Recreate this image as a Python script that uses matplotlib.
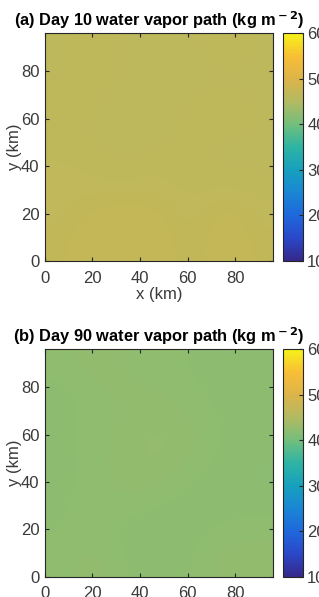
import numpy as np
import matplotlib.pyplot as plt
from matplotlib.colors import LinearSegmentedColormap

plt.rcParams['font.family'] = ['Liberation Sans', 'DejaVu Sans']

# grid node positions (km) and coarse field values (kg m^-2)
grid_km = [0, 16, 32, 48, 64, 80, 96]

# rows go from y=0 (bottom) to y=96 (top)
wvp_day10 = [
    [46.8, 47.3, 47.0, 47.2, 46.6, 47.3, 46.8],
    [46.6, 47.0, 47.2, 47.0, 46.5, 47.2, 46.6],
    [46.7, 46.5, 46.4, 46.6, 46.3, 46.4, 46.3],
    [46.4, 46.3, 46.2, 46.3, 46.4, 46.2, 46.3],
    [46.5, 46.3, 46.2, 46.2, 46.4, 46.6, 46.3],
    [46.3, 46.4, 46.3, 46.2, 46.2, 46.3, 46.2],
    [46.3, 46.4, 46.3, 46.3, 46.2, 46.5, 46.3],
]

wvp_day90 = [
    [42.3, 42.6, 42.2, 42.1, 42.2, 42.6, 42.5],
    [42.2, 42.3, 42.1, 42.0, 42.1, 42.3, 42.4],
    [42.2, 42.3, 42.5, 42.3, 42.1, 42.0, 42.0],
    [42.1, 42.3, 42.6, 42.7, 42.4, 42.1, 42.0],
    [42.2, 42.3, 42.5, 42.7, 42.5, 42.2, 42.1],
    [42.1, 42.3, 42.5, 42.5, 42.3, 42.1, 42.0],
    [42.3, 42.6, 42.4, 42.3, 42.2, 42.1, 42.2],
]

clim = (10, 60)
cbar_ticks = [10, 20, 30, 40, 50, 60]
axis_ticks = [0, 20, 40, 60, 80]

# parula-like colours as they appear in the screenshot
parula_like = LinearSegmentedColormap.from_list('parula_like', [
    (0.00, '#35288c'),
    (0.10, '#2a48c8'),
    (0.20, '#1f68dc'),
    (0.30, '#1a86d4'),
    (0.40, '#17a0be'),
    (0.50, '#2eb4a4'),
    (0.60, '#72be7c'),
    (0.70, '#b2ba62'),
    (0.80, '#dcb44a'),
    (0.90, '#f8be36'),
    (1.00, '#f6f21a'),
])

fig = plt.figure(figsize=(3.19, 5.97), dpi=100)

panels = [
    ('(a) Day 10 water vapor path (kg m$^{\\bf -2}$)', wvp_day10, 0.563),
    ('(b) Day 90 water vapor path (kg m$^{\\bf -2}$)', wvp_day90, 0.034),
]

dark = '#262626'
label_col = '#3a3a3a'
for title, field, bottom in panels:
    ax = fig.add_axes([0.141, bottom, 0.715, 0.381])
    im = ax.imshow(np.array(field), origin='lower', cmap=parula_like,
                   vmin=clim[0], vmax=clim[1], interpolation='bicubic',
                   extent=(grid_km[0], grid_km[-1], grid_km[0], grid_km[-1]),
                   aspect='auto')
    ax.set_xlim(0, 96)
    ax.set_ylim(0, 96)
    ax.set_xticks(axis_ticks)
    ax.set_yticks(axis_ticks)
    ax.tick_params(direction='in', length=3, width=0.8, top=True, right=True,
                   labelsize=12, colors=dark, labelcolor=label_col)
    ax.tick_params(axis='x', pad=7)
    ax.tick_params(axis='y', pad=4)
    for s in ax.spines.values():
        s.set_color(dark)
        s.set_linewidth(0.8)
    ax.set_xlabel('x (km)', fontsize=12, color=label_col, labelpad=1)
    ax.set_ylabel('y (km)', fontsize=12, color=label_col, labelpad=-1)
    ax.set_title(title, fontsize=11.8, fontweight='bold', color='black', pad=5)

    cax = fig.add_axes([0.887, bottom, 0.063, 0.381])
    cb = fig.colorbar(im, cax=cax, ticks=cbar_ticks)
    cb.outline.set_edgecolor(dark)
    cb.outline.set_linewidth(0.8)
    cax.tick_params(direction='in', length=3, width=0.8, labelsize=12,
                    colors=dark, labelcolor=label_col, pad=3)

fig.savefig('out.png', dpi=100)
